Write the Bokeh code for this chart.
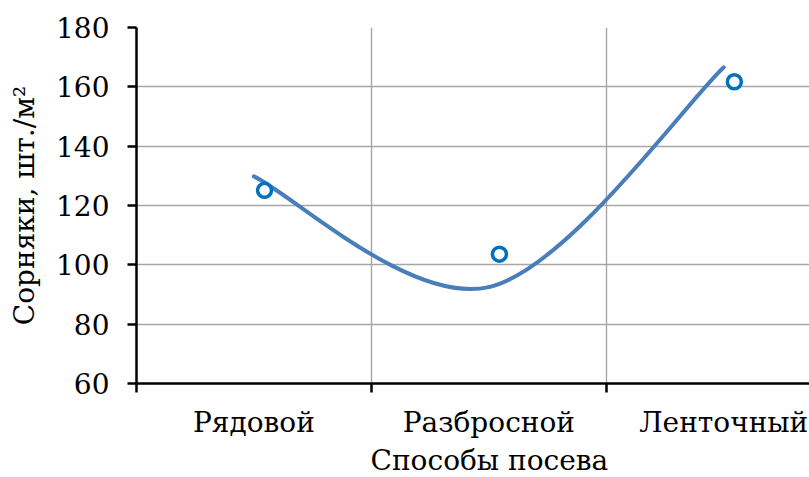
from bokeh.plotting import figure
from bokeh.models import Range1d, FixedTicker, ColumnDataSource, Title
from bokeh.transform import dodge
from bokeh.embed import file_html
from bokeh.resources import INLINE

# Sowing methods and weed counts (plants per m²)
categories = ["Рядовой", "Разбросной", "Ленточный"]
observed = [125.1, 103.6, 161.7]       # measured values (open markers)
smoothed = [129.8, 92.5, 166.6]        # smoothed curve through category centres
y_ticks = [60, 80, 100, 120, 140, 160, 180]

FONT = "DejaVu Serif"
centres = [i + 0.5 for i in range(len(categories))]

p = figure(width=809, height=477, output_backend="svg", toolbar_location=None,
           x_range=Range1d(0, 2.865), y_range=Range1d(60, 180),
           min_border_left=136, min_border_right=0, min_border_top=27,
           min_border_bottom=94)
p.outline_line_color = None
p.background_fill_color = "white"
p.border_fill_color = "white"

# category axis: labels at centres, tick marks on category boundaries
xa = p.xaxis[0]
xa.ticker = FixedTicker(ticks=centres, minor_ticks=list(range(len(categories) + 1)))
xa.major_label_overrides = {c: name for c, name in zip(centres, categories)}
xa.major_tick_line_color = None
xa.minor_tick_in = 0
xa.minor_tick_out = 9
xa.minor_tick_line_color = "black"
xa.minor_tick_line_width = 2.5
xa.axis_line_color = "black"
xa.axis_line_width = 2.5
xa.major_label_text_font = FONT
xa.major_label_text_font_size = "28px"
xa.major_label_text_color = "black"
xa.major_label_standoff = 13

ya = p.yaxis[0]
ya.ticker = FixedTicker(ticks=y_ticks)
ya.minor_tick_line_color = None
ya.major_tick_in = 0
ya.major_tick_out = 9
ya.major_tick_line_color = "black"
ya.major_tick_line_width = 2.5
ya.axis_line_color = "black"
ya.axis_line_width = 2.5
ya.major_label_text_font = FONT
ya.major_label_text_font_size = "28px"
ya.major_label_text_color = "black"
ya.major_label_standoff = 18
ya.axis_label = "Сорняки, шт./м²"
ya.axis_label_text_font = FONT
ya.axis_label_text_font_size = "28px"
ya.axis_label_text_font_style = "normal"
ya.axis_label_text_color = "black"
ya.axis_label_standoff = 12

# x-axis title below the category labels
p.add_layout(Title(text="Способы посева", text_font=FONT, text_font_size="28px",
                   text_font_style="normal", text_color="black", align="left",
                   offset=234, standoff=0), "below")

p.xgrid.ticker = FixedTicker(ticks=list(range(1, len(categories))))
p.ygrid.ticker = FixedTicker(ticks=y_ticks[1:])
for g in (p.xgrid[0], p.ygrid[0]):
    g.grid_line_color = "#a6a6a6"
    g.grid_line_width = 1.4

# smoothed line: cubic Bezier segments with Catmull-Rom style tangents
pts = list(zip(centres, smoothed))
n = len(pts)
seg = dict(x0=[], y0=[], x1=[], y1=[], cx0=[], cy0=[], cx1=[], cy1=[])
for i in range(n - 1):
    pa, pb = pts[i], pts[i + 1]
    pprev = pts[i - 1] if i > 0 else pa
    pnext = pts[i + 2] if i + 2 < n else pb
    seg["x0"].append(pa[0]); seg["y0"].append(pa[1])
    seg["x1"].append(pb[0]); seg["y1"].append(pb[1])
    seg["cx0"].append(pa[0] + (pb[0] - pprev[0]) / 6)
    seg["cy0"].append(pa[1] + (pb[1] - pprev[1]) / 6)
    seg["cx1"].append(pb[0] - (pnext[0] - pa[0]) / 6)
    seg["cy1"].append(pb[1] - (pnext[1] - pa[1]) / 6)
p.bezier(source=ColumnDataSource(seg), x0="x0", y0="y0", x1="x1", y1="y1",
         cx0="cx0", cy0="cy0", cx1="cx1", cy1="cy1",
         line_color="#4a7ebb", line_width=4, line_cap="round")

# measured points
obs = ColumnDataSource(dict(x=centres, y=observed))
p.scatter(x=dodge("x", 0.045, range=p.x_range), y="y", source=obs, marker="circle",
          size=14, fill_color="white", line_color="#0070c0", line_width=3.5)

open("out.html", "w").write(file_html(p, INLINE))
